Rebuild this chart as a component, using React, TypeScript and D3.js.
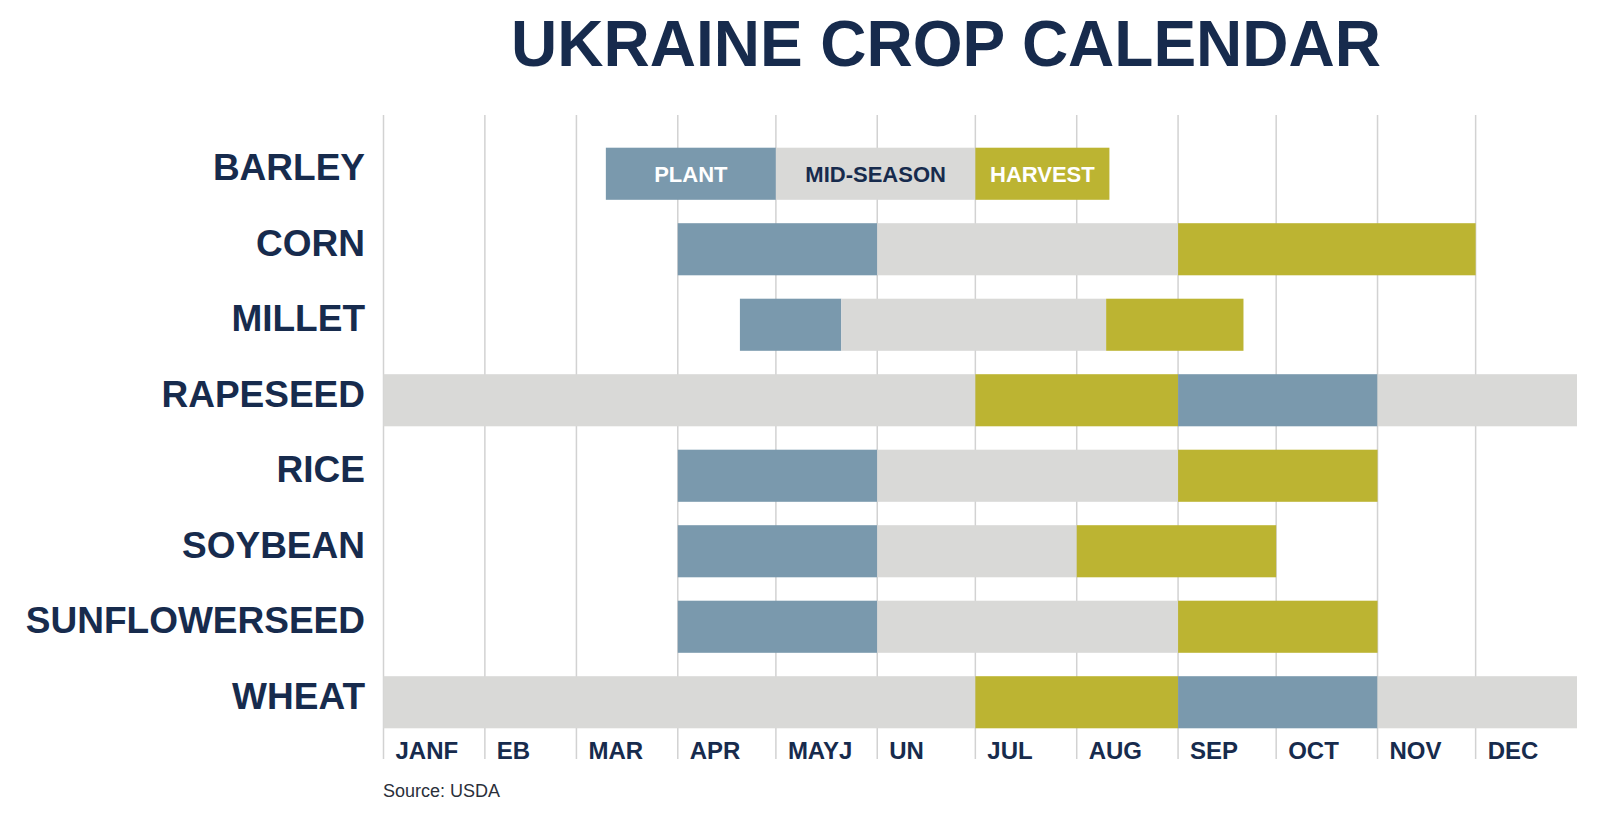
import React, { useEffect, useRef } from "react";
import * as d3 from "d3";

interface Segment {
  crop: string;
  stage: string;
  start: string; // MM-DD, first day
  end: string; // MM-DD, last day (inclusive)
}

const crops: string[] = [
  "BARLEY",
  "CORN",
  "MILLET",
  "RAPESEED",
  "RICE",
  "SOYBEAN",
  "SUNFLOWERSEED",
  "WHEAT",
];

const stages: string[] = ["PLANT", "MID-SEASON", "HARVEST"];

// the source chart really prints these broken month labels
const monthLabels: string[] = [
  "JANF", "EB", "MAR", "APR", "MAYJ", "UN", "JUL", "AUG", "SEP", "OCT", "NOV", "DEC",
];

const segments: Segment[] = [
  { crop: "BARLEY", stage: "PLANT", start: "03-10", end: "04-30" },
  { crop: "BARLEY", stage: "MID-SEASON", start: "05-01", end: "06-30" },
  { crop: "BARLEY", stage: "HARVEST", start: "07-01", end: "08-10" },

  { crop: "CORN", stage: "PLANT", start: "04-01", end: "05-31" },
  { crop: "CORN", stage: "MID-SEASON", start: "06-01", end: "08-31" },
  { crop: "CORN", stage: "HARVEST", start: "09-01", end: "11-30" },

  { crop: "MILLET", stage: "PLANT", start: "04-20", end: "05-20" },
  { crop: "MILLET", stage: "MID-SEASON", start: "05-21", end: "08-09" },
  { crop: "MILLET", stage: "HARVEST", start: "08-10", end: "09-20" },

  { crop: "RAPESEED", stage: "MID-SEASON", start: "01-01", end: "06-30" },
  { crop: "RAPESEED", stage: "HARVEST", start: "07-01", end: "08-31" },
  { crop: "RAPESEED", stage: "PLANT", start: "09-01", end: "10-31" },
  { crop: "RAPESEED", stage: "MID-SEASON", start: "11-01", end: "12-31" },

  { crop: "RICE", stage: "PLANT", start: "04-01", end: "05-31" },
  { crop: "RICE", stage: "MID-SEASON", start: "06-01", end: "08-31" },
  { crop: "RICE", stage: "HARVEST", start: "09-01", end: "10-31" },

  { crop: "SOYBEAN", stage: "PLANT", start: "04-01", end: "05-31" },
  { crop: "SOYBEAN", stage: "MID-SEASON", start: "06-01", end: "07-31" },
  { crop: "SOYBEAN", stage: "HARVEST", start: "08-01", end: "09-30" },

  { crop: "SUNFLOWERSEED", stage: "PLANT", start: "04-01", end: "05-31" },
  { crop: "SUNFLOWERSEED", stage: "MID-SEASON", start: "06-01", end: "08-31" },
  { crop: "SUNFLOWERSEED", stage: "HARVEST", start: "09-01", end: "10-31" },

  { crop: "WHEAT", stage: "MID-SEASON", start: "01-01", end: "06-30" },
  { crop: "WHEAT", stage: "HARVEST", start: "07-01", end: "08-31" },
  { crop: "WHEAT", stage: "PLANT", start: "09-01", end: "10-31" },
  { crop: "WHEAT", stage: "MID-SEASON", start: "11-01", end: "12-31" },
];

const YEAR = 2023;
const parseDay = (s: string) => {
  const [m, d] = s.split("-").map(Number);
  return new Date(YEAR, m - 1, d);
};

const App: React.FC = () => {
  const svgRef = useRef<SVGSVGElement | null>(null);

  useEffect(() => {
    const width = 1600;
    const height = 813;
    const navy = "#172b4d";
    const font = "'Liberation Sans', Arial, Helvetica, sans-serif";

    const colorMapping: { [key: string]: string } = {
      PLANT: "#7a99ad",
      "MID-SEASON": "#d9d9d7",
      HARVEST: "#bcb432",
    };
    const labelColor: { [key: string]: string } = {
      PLANT: "#ffffff",
      "MID-SEASON": navy,
      HARVEST: "#ffffff",
    };

    const svg = d3.select(svgRef.current);
    svg.selectAll("*").remove();
    svg.attr("width", width).attr("height", height);

    const xScale = d3
      .scaleTime()
      .domain([new Date(YEAR, 0, 1), new Date(YEAR + 1, 0, 1)])
      .range([383.5, 1577]);

    const yScale = d3
      .scaleBand()
      .domain(crops)
      .range([136, 740])
      .paddingInner(0.31)
      .paddingOuter(0.155);

    const gridTop = 115;
    const gridBottom = 759;

    // title
    svg
      .append("text")
      .attr("x", 946)
      .attr("y", 66)
      .attr("text-anchor", "middle")
      .attr("fill", navy)
      .style("font-family", font)
      .style("font-weight", "bold")
      .style("font-size", "64px")
      .text("UKRAINE CROP CALENDAR");

    // month grid lines
    const monthStarts = d3.timeMonth.range(new Date(YEAR, 0, 1), new Date(YEAR + 1, 0, 1));
    svg
      .append("g")
      .selectAll("line")
      .data(monthStarts)
      .enter()
      .append("line")
      .attr("x1", (d) => xScale(d))
      .attr("x2", (d) => xScale(d))
      .attr("y1", gridTop)
      .attr("y2", gridBottom)
      .attr("stroke", "#d2d2d2")
      .attr("stroke-width", 1.5);

    // bars
    svg
      .append("g")
      .selectAll("rect")
      .data(segments)
      .enter()
      .append("rect")
      .attr("x", (d) => xScale(parseDay(d.start)))
      .attr("y", (d) => yScale(d.crop)!)
      .attr("width", (d) => xScale(d3.timeDay.offset(parseDay(d.end), 1)) - xScale(parseDay(d.start)))
      .attr("height", yScale.bandwidth())
      .attr("fill", (d) => colorMapping[d.stage]);

    // stage names on the first crop's bars act as the legend
    const legendSegs = segments.filter((d) => d.crop === crops[0] && stages.includes(d.stage));
    svg
      .append("g")
      .selectAll("text")
      .data(legendSegs)
      .enter()
      .append("text")
      .attr("x", (d) => (xScale(parseDay(d.start)) + xScale(d3.timeDay.offset(parseDay(d.end), 1))) / 2)
      .attr("y", (d) => yScale(d.crop)! + yScale.bandwidth() / 2)
      .attr("dy", "0.36em")
      .attr("text-anchor", "middle")
      .attr("fill", (d) => labelColor[d.stage])
      .style("font-family", font)
      .style("font-weight", "bold")
      .style("font-size", "22px")
      .text((d) => d.stage);

    // crop names
    svg
      .append("g")
      .selectAll("text")
      .data(crops)
      .enter()
      .append("text")
      .attr("x", 365)
      .attr("y", (d) => yScale(d)! + yScale.bandwidth() / 2 - 7)
      .attr("dy", "0.36em")
      .attr("text-anchor", "end")
      .attr("fill", navy)
      .style("font-family", font)
      .style("font-weight", "bold")
      .style("font-size", "37px")
      .text((d) => d);

    // month labels
    svg
      .append("g")
      .selectAll("text")
      .data(monthLabels)
      .enter()
      .append("text")
      .attr("x", (_, i) => xScale(monthStarts[i]) + 12)
      .attr("y", gridBottom)
      .attr("fill", navy)
      .style("font-family", font)
      .style("font-weight", "bold")
      .style("font-size", "24px")
      .text((d) => d);

    // source
    svg
      .append("text")
      .attr("x", 383)
      .attr("y", 797)
      .attr("fill", "#2a2f3a")
      .style("font-family", font)
      .style("font-size", "18px")
      .text("Source: USDA");
  }, []);

  return (
    <svg
      ref={svgRef}
      style={{ position: "absolute", left: 0, top: 0, display: "block", background: "white" }}
    />
  );
};

export default App;
